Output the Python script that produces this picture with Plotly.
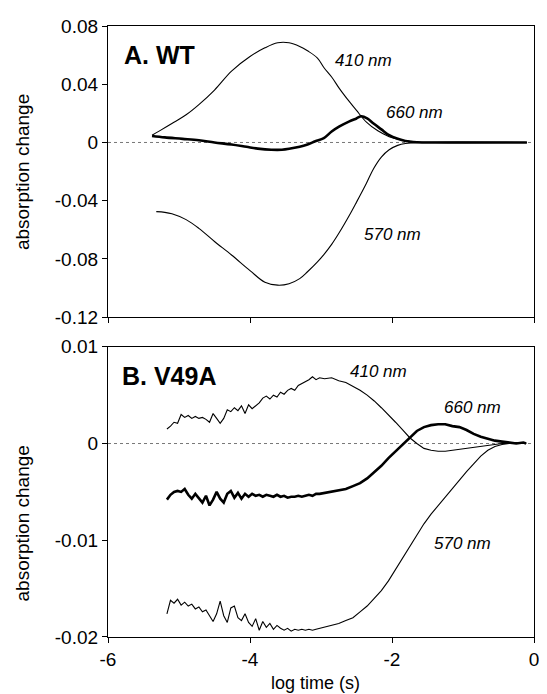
import plotly.graph_objects as go
from plotly.subplots import make_subplots

# ---------------- Panel A (WT) ----------------
wt410_x = [-5.38, -5.28, -5.1, -4.9, -4.72, -4.5, -4.26, -4.0, -3.79, -3.61, -3.45, -3.3, -3.19,
           -3.05, -2.96, -2.85, -2.74, -2.6, -2.5, -2.36, -2.2, -2.04, -1.9, -1.67, -1.4, -0.1]
wt410_y = [0.005, 0.0078, 0.013, 0.019, 0.026, 0.036, 0.049, 0.059, 0.065, 0.0685, 0.0685, 0.066, 0.063,
           0.058, 0.0515, 0.045, 0.037, 0.028, 0.022, 0.014, 0.008, 0.004, 0.002, 0.0005, 0.0, 0.0]

wt660_x = [-5.38, -5.2, -4.95, -4.72, -4.5, -4.26, -4.05, -3.89, -3.7, -3.55, -3.43, -3.3, -3.19, -3.08,
           -2.96, -2.85, -2.74, -2.6, -2.5, -2.43, -2.35, -2.26, -2.15, -2.04, -1.92, -1.81, -1.65, -1.4, -0.1]
wt660_y = [0.0045, 0.0035, 0.0025, 0.0015, 0.0, -0.0014, -0.003, -0.0042, -0.005, -0.005, -0.0042, -0.003,
           -0.0014, 0.0008, 0.003, 0.0075, 0.011, 0.0145, 0.0165, 0.018, 0.0165, 0.013, 0.009, 0.005, 0.0025,
           0.001, 0.0002, 0.0, 0.0]

wt570_x = [-5.32, -5.2, -5.1, -4.9, -4.72, -4.5, -4.26, -4.0, -3.79, -3.61, -3.45, -3.3, -3.19, -3.05,
           -2.96, -2.85, -2.74, -2.6, -2.5, -2.36, -2.26, -2.15, -2.04, -1.92, -1.81, -1.6, -0.1]
wt570_y = [-0.0475, -0.048, -0.049, -0.053, -0.059, -0.068, -0.0773, -0.088, -0.096, -0.098, -0.097,
           -0.0935, -0.0888, -0.082, -0.077, -0.070, -0.0617, -0.050, -0.041, -0.028, -0.018, -0.010,
           -0.005, -0.002, -0.0007, 0.0, 0.0]

# ---------------- Panel B (V49A) ----------------
v49_x = [-5.17, -5.12, -5.07, -5.02, -4.97, -4.92, -4.87, -4.82, -4.77, -4.72, -4.67, -4.62, -4.57,
         -4.52, -4.47, -4.42, -4.37, -4.32, -4.27, -4.22, -4.17, -4.12, -4.07, -4.02, -3.97, -3.92,
         -3.87, -3.82, -3.77, -3.72, -3.67, -3.62, -3.57, -3.52, -3.47, -3.42, -3.37, -3.32, -3.27,
         -3.22, -3.17, -3.12, -3.07, -3.02,
         -2.95, -2.85, -2.75, -2.65, -2.55, -2.45, -2.35, -2.25, -2.15, -2.05, -1.95, -1.85, -1.75,
         -1.65, -1.55, -1.45, -1.35, -1.25, -1.15, -1.05, -0.95, -0.85, -0.75, -0.65, -0.55, -0.45,
         -0.35, -0.25, -0.15, -0.11]

v49_410 = [0.0015, 0.0018, 0.0022, 0.0021, 0.0030, 0.0027, 0.0029, 0.0026, 0.0028, 0.0026, 0.0027,
           0.0025, 0.0022, 0.0031, 0.0026, 0.0021, 0.0026, 0.0035, 0.0033, 0.0037, 0.0034, 0.0039,
           0.0031, 0.0040, 0.0036, 0.0039, 0.0042, 0.0047, 0.0049, 0.0046, 0.0050, 0.0048, 0.0053,
           0.0051, 0.0055, 0.0057, 0.0055, 0.0060, 0.0062, 0.0064, 0.0066, 0.0069, 0.0066, 0.0068,
           0.0067, 0.0068, 0.0065, 0.0063, 0.0059, 0.0055, 0.0050, 0.0044, 0.0037, 0.0030, 0.0022,
           0.0014, 0.0006, 0.0000, -0.0005, -0.0007, -0.0008, -0.0008, -0.0007, -0.0006, -0.0005,
           -0.0004, -0.0003, -0.0002, -0.0001, 0.0, 0.0, 0.0001, 0.0, 0.0]

v49_660 = [-0.0058, -0.0053, -0.0050, -0.0049, -0.0050, -0.0047, -0.0053, -0.0057, -0.0052, -0.0056,
           -0.0061, -0.0054, -0.0064, -0.0058, -0.0050, -0.0057, -0.0061, -0.0052, -0.0049, -0.0056,
           -0.0051, -0.0057, -0.0052, -0.0055, -0.0052, -0.0054, -0.0053, -0.0055, -0.0053, -0.0054,
           -0.0055, -0.0053, -0.0055, -0.0054, -0.0056, -0.0055, -0.0055, -0.0054, -0.0055, -0.0054,
           -0.0053, -0.0054, -0.0052, -0.0052,
           -0.0051, -0.0050, -0.0048, -0.0047, -0.0044, -0.0041, -0.0036, -0.0030, -0.0023, -0.0015,
           -0.0008, 0.0000, 0.0007, 0.0013, 0.0017, 0.0019, 0.0020, 0.0020, 0.0018, 0.0017, 0.0014,
           0.0010, 0.0007, 0.0005, 0.0003, 0.0002, 0.0001, 0.0000, 0.0001, 0.0]

v49_570 = [-0.0176, -0.0162, -0.0165, -0.0161, -0.0167, -0.0164, -0.0168, -0.0166, -0.0171, -0.0169,
           -0.0174, -0.0172, -0.0178, -0.0184, -0.0176, -0.0163, -0.0178, -0.0185, -0.0170, -0.0168,
           -0.0180, -0.0183, -0.0176, -0.0185, -0.0189, -0.0181, -0.0193, -0.0184, -0.0190, -0.0186,
           -0.0192, -0.0188, -0.0191, -0.0193, -0.0191, -0.0194, -0.0192, -0.0193, -0.0192, -0.0193,
           -0.0192, -0.0193, -0.0192, -0.0191,
           -0.0190, -0.0188, -0.0186, -0.0183, -0.0180, -0.0174, -0.0168, -0.0160, -0.0152, -0.0142,
           -0.0130, -0.0118, -0.0106, -0.0094, -0.0083, -0.0073, -0.0064, -0.0055, -0.0047, -0.0038,
           -0.0029, -0.0021, -0.0013, -0.0007, -0.0003, -0.0001, 0.0, 0.0, 0.0, 0.0]

# ---------------- ticks & labels ----------------
x_ticks = [-6, -4, -2, 0]
x_ticktext = ["-6", "-4", "-2", "0"]
ya_ticks = [0.08, 0.04, 0, -0.04, -0.08, -0.12]
ya_ticktext = ["0.08", "0.04", "0", "-0.04", "-0.08", "-0.12"]
yb_ticks = [0.01, 0, -0.01, -0.02]
yb_ticktext = ["0.01", "0", "-0.01", "-0.02"]

wt_labels = ["410 nm", "660 nm", "570 nm"]
wt_label_x = [-2.40, -1.69, -1.99]
wt_label_y = [0.0563, 0.0203, -0.063]
v49_labels = ["410 nm", "660 nm", "570 nm"]
v49_label_x = [-2.19, -0.86, -1.01]
v49_label_y = [0.0074, 0.0037, -0.0103]

FONT = "Liberation Sans, Arial, sans-serif"
# the page body has an 8px margin; figure is sized so the plot lands where the reference has it
OFF = 8
W, H = 547 - OFF, 694 - OFF
ML, MR, MT, MB = 108 - OFF, 547 - 539, 18 - OFF, 694 - 637
plot_h = H - MT - MB
plot_w = W - ML - MR
dom_a = [(637 - 313) / plot_h, 1.0]
dom_b = [0.0, (637 - 343) / plot_h]

fig = make_subplots(rows=2, cols=1, vertical_spacing=0.05)

thin = dict(color="black", width=1.1)
thick = dict(color="black", width=2.6)

fig.add_trace(go.Scatter(x=wt410_x, y=wt410_y, mode="lines", line=dict(**thin, shape="spline")), row=1, col=1)
fig.add_trace(go.Scatter(x=wt570_x, y=wt570_y, mode="lines", line=dict(**thin, shape="spline")), row=1, col=1)
fig.add_trace(go.Scatter(x=wt660_x, y=wt660_y, mode="lines", line=dict(**thick, shape="spline")), row=1, col=1)

fig.add_trace(go.Scatter(x=v49_x, y=v49_410, mode="lines", line=thin), row=2, col=1)
fig.add_trace(go.Scatter(x=v49_x, y=v49_570, mode="lines", line=thin), row=2, col=1)
fig.add_trace(go.Scatter(x=v49_x, y=v49_660, mode="lines", line=thick), row=2, col=1)

axis_common = dict(showline=True, linecolor="black", linewidth=1.2, mirror=True,
                   ticks="outside", ticklen=5, tickcolor="black", tickwidth=1.2,
                   showgrid=False, zeroline=False,
                   tickfont=dict(family=FONT, size=19, color="black"))

fig.update_xaxes(range=[-6, 0], tickvals=x_ticks, ticktext=x_ticktext, **axis_common)
fig.update_xaxes(showticklabels=False, row=1, col=1)
fig.update_yaxes(**axis_common)
fig.update_yaxes(range=[-0.12, 0.08], tickvals=ya_ticks, ticktext=ya_ticktext, row=1, col=1)
fig.update_yaxes(range=[-0.02, 0.01], tickvals=yb_ticks, ticktext=yb_ticktext, row=2, col=1)

fig.update_layout(yaxis=dict(domain=dom_a), yaxis2=dict(domain=dom_b))

# zero reference lines
for yref, xref in [("y", "x domain"), ("y2", "x2 domain")]:
    fig.add_shape(type="line", xref=xref, yref=yref, x0=0, x1=1, y0=0, y1=0,
                  line=dict(color="#777777", width=1, dash="dot"), layer="below")

ann = []
for t, x, y in zip(wt_labels, wt_label_x, wt_label_y):
    ann.append(dict(x=x, y=y, xref="x", yref="y", text="<i>" + t + "</i>", showarrow=False,
                    font=dict(family=FONT, size=17, color="black")))
for t, x, y in zip(v49_labels, v49_label_x, v49_label_y):
    ann.append(dict(x=x, y=y, xref="x2", yref="y2", text="<i>" + t + "</i>", showarrow=False,
                    font=dict(family=FONT, size=17, color="black")))

ann.append(dict(x=0.032, y=0.90, xref="x domain", yref="y domain", text="<b>A. WT</b>",
                showarrow=False, xanchor="left", yanchor="middle",
                font=dict(family=FONT, size=25, color="black")))
ann.append(dict(x=0.028, y=0.898, xref="x2 domain", yref="y2 domain", text="<b>B. V49A</b>",
                showarrow=False, xanchor="left", yanchor="middle",
                font=dict(family=FONT, size=25, color="black")))

# axis titles (positions given in reference-screen pixels relative to the plot area)
ann.append(dict(x=(21 - 108) / plot_w, y=(637 - 166) / plot_h, xref="paper", yref="paper",
                text="absorption change", textangle=-90, showarrow=False,
                xanchor="center", yanchor="middle", font=dict(family=FONT, size=19, color="black")))
ann.append(dict(x=(21 - 108) / plot_w, y=(637 - 522) / plot_h, xref="paper", yref="paper",
                text="absorption change", textangle=-90, showarrow=False,
                xanchor="center", yanchor="middle", font=dict(family=FONT, size=19, color="black")))
ann.append(dict(x=(318 - 108) / plot_w, y=(637 - 684) / plot_h, xref="paper", yref="paper",
                text="log time (s)", showarrow=False, xanchor="center", yanchor="middle",
                font=dict(family=FONT, size=18, color="black")))

fig.update_layout(
    annotations=ann,
    width=W, height=H,
    margin=dict(l=ML, r=MR, t=MT, b=MB),
    paper_bgcolor="white", plot_bgcolor="white",
    showlegend=False,
    font=dict(family=FONT, color="black"),
)

fig.write_html("out.html")
